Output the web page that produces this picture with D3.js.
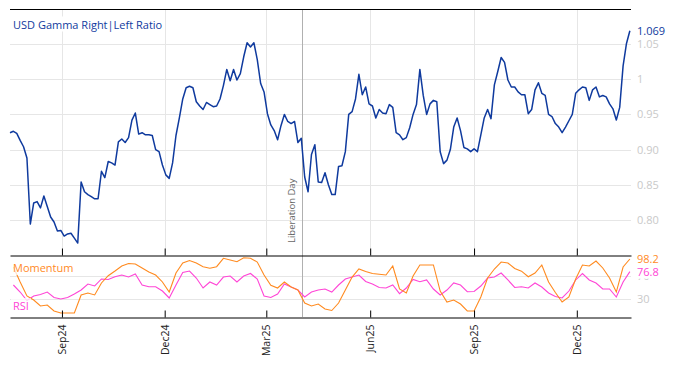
<!DOCTYPE html>
<html>
<head>
<meta charset="utf-8">
<script src="https://cdn.jsdelivr.net/npm/d3@7"></script>
<style>
  body { margin: 0; background: #fff; }
  svg { display: block; font-family: "Open Sans", sans-serif; }
</style>
</head>
<body>
<div id="chart"></div>
<script>
// Gamma ratio, one reading every 3 days from 17 Jul 2024
const ratioStart = '2024-07-17';
const ratioStepDays = 3;
const ratioValues = [
  0.924, 0.926, 0.923, 0.913, 0.904, 0.888, 0.794, 0.824, 0.826, 0.817,
  0.834, 0.819, 0.804, 0.797, 0.784, 0.785, 0.777, 0.780, 0.781, 0.774,
  0.767, 0.854, 0.840, 0.836, 0.833, 0.830, 0.830, 0.869, 0.860, 0.883,
  0.881, 0.878, 0.911, 0.915, 0.910, 0.917, 0.942, 0.952, 0.922, 0.924,
  0.921, 0.921, 0.920, 0.900, 0.897, 0.878, 0.864, 0.859, 0.881, 0.920,
  0.945, 0.972, 0.988, 0.990, 0.988, 0.968, 0.962, 0.957, 0.967, 0.964,
  0.961, 0.962, 0.972, 0.991, 1.014, 0.998, 1.014, 0.999, 1.008, 1.032,
  1.052, 1.046, 1.052, 1.028, 0.994, 0.982, 0.951, 0.935, 0.927, 0.914,
  0.934, 0.950, 0.940, 0.937, 0.940, 0.910, 0.916, 0.861, 0.840, 0.893,
  0.907, 0.854, 0.853, 0.867, 0.850, 0.836, 0.836, 0.876, 0.877, 0.897,
  0.950, 0.954, 0.972, 1.007, 0.978, 0.989, 0.965, 0.962, 0.945, 0.957,
  0.952, 0.951, 0.964, 0.960, 0.924, 0.921, 0.914, 0.917, 0.931, 0.950,
  0.964, 1.014, 0.977, 0.950, 0.965, 0.970, 0.968, 0.897, 0.880, 0.885,
  0.900, 0.932, 0.945, 0.927, 0.903, 0.901, 0.897, 0.901, 0.897, 0.921,
  0.945, 0.957, 0.944, 0.992, 1.011, 1.031, 1.024, 0.999, 0.989, 0.989,
  0.982, 0.978, 0.978, 0.951, 0.957, 0.985, 0.995, 0.980, 0.977, 0.950,
  0.947, 0.937, 0.932, 0.924, 0.932, 0.941, 0.950, 0.980, 0.985, 0.989,
  0.988, 0.970, 0.985, 0.989, 0.975, 0.977, 0.975, 0.965, 0.958, 0.942,
  0.960, 1.019, 1.051, 1.069
];

// Oscillators, one reading every 6 days from 20 Jul 2024
const oscStart = '2024-07-20';
const oscStepDays = 6;
const momentumValues = [
  84.7, 59.3, 35.6, 28.8, 18.6, 20.3, 10.2, 6.8, 6.8, 6.8,
  37.3, 40.6, 37.3, 57.6, 69.9, 77.9, 86.4, 90.6, 89.8, 83.0,
  76.2, 71.1, 59.3, 42.3, 74.5, 91.4, 95.7, 91.4, 85.2, 82.5,
  85.2, 99.4, 96.5, 93.7, 100.4, 99.4, 93.1, 71.1, 53.7, 49.1,
  59.3, 50.8, 45.7, 23.7, 18.6, 22.0, 13.5, 11.0, 23.7, 45.7,
  67.7, 81.3, 77.1, 73.7, 72.3, 71.1, 86.4, 47.4, 40.6, 69.4,
  88.1, 88.1, 88.1, 44.0, 25.4, 28.8, 22.0, 10.2, 10.2, 33.9,
  66.0, 81.3, 93.1, 91.4, 82.1, 77.6, 68.2, 74.5, 88.1, 59.3,
  41.5, 25.4, 33.9, 64.4, 88.1, 86.4, 94.8, 83.0, 66.0, 42.3,
  84.7, 98.2
];
const rsiValues = [
  54.2, 42.3, 27.9, 35.6, 38.1, 42.3, 33.0, 30.5, 33.0, 38.9,
  45.7, 55.9, 52.5, 64.4, 63.5, 68.2, 71.1, 67.7, 72.8, 54.2,
  51.3, 51.3, 44.0, 32.2, 54.2, 75.4, 77.9, 66.0, 49.1, 59.3,
  54.2, 67.7, 69.4, 59.3, 69.4, 73.7, 64.4, 35.6, 33.0, 38.9,
  55.9, 50.8, 45.7, 33.9, 42.3, 45.7, 47.4, 42.3, 54.2, 64.4,
  67.7, 71.1, 60.1, 55.9, 50.0, 49.1, 54.2, 39.5, 49.1, 63.5,
  59.8, 62.7, 47.4, 37.3, 45.7, 57.6, 54.2, 42.8, 43.2, 52.5,
  66.0, 67.7, 74.5, 62.7, 50.0, 51.3, 49.1, 57.6, 50.8, 40.6,
  34.7, 32.2, 44.0, 62.7, 73.7, 62.7, 57.6, 47.4, 47.4, 33.9,
  59.3, 76.8
];

// Axes
const xDomain = ['2024-07-17', '2026-01-18'];
const tickDates = ['2024-09-01', '2024-12-01', '2025-03-01', '2025-06-01', '2025-09-01', '2025-12-01'];
const tickLabels = ['Sep24', 'Dec24', 'Mar25', 'Jun25', 'Sep25', 'Dec25'];
const ratioTicks = [0.80, 0.85, 0.90, 0.95, 1.00, 1.05];
const ratioTickLabels = ['0.80', '0.85', '0.90', '0.95', '1', '1.05'];
const oscTicks = [30, 70];
const oscTickLabels = ['30', '70'];
const eventDate = '2025-04-02';
const eventLabel = 'Liberation Day';

const W = 674, H = 366;
const plotLeft = 10, plotRight = 631, plotTop = 9, plotMid = 255, plotBottom = 317;
const blue = '#0f3a9e', orange = '#ff8a1f', pink = '#ff45d6';
const gridColor = '#e6e6e6', axisText = '#c9c9c9';

const parse = d3.utcParse('%Y-%m-%d');
const t0 = parse(ratioStart), o0 = parse(oscStart);
const ratioData = ratioValues.map((v, i) => ({ date: d3.utcDay.offset(t0, i * ratioStepDays), value: v }));
const momentumData = momentumValues.map((v, i) => ({ date: d3.utcDay.offset(o0, i * oscStepDays), value: v }));
const rsiData = rsiValues.map((v, i) => ({ date: d3.utcDay.offset(o0, i * oscStepDays), value: v }));
const ticks = tickDates.map(parse);

const svg = d3.select('#chart').append('svg')
    .attr('width', W)
    .attr('height', H);

const x = d3.scaleUtc().domain(xDomain.map(parse)).range([plotLeft, plotRight]);
const yRatio = d3.scaleLinear().domain([0.75, 1.10]).range([plotMid, plotTop]);
const yOsc = d3.scaleLinear().domain([0, 105]).range([plotBottom, plotMid]);

// Grid
const grid = svg.append('g').attr('stroke', gridColor).attr('stroke-width', 1);
grid.selectAll('.hr').data(ratioTicks).enter().append('line')
    .attr('x1', plotLeft).attr('x2', plotRight)
    .attr('y1', d => Math.round(yRatio(d)) + 0.5).attr('y2', d => Math.round(yRatio(d)) + 0.5);
grid.selectAll('.ho').data(oscTicks).enter().append('line')
    .attr('x1', plotLeft).attr('x2', plotRight)
    .attr('y1', d => Math.round(yOsc(d)) + 0.5).attr('y2', d => Math.round(yOsc(d)) + 0.5);
grid.selectAll('.v').data(ticks).enter().append('line')
    .attr('x1', d => Math.round(x(d)) + 0.5).attr('x2', d => Math.round(x(d)) + 0.5)
    .attr('y1', plotTop).attr('y2', plotMid);

// Event marker
const ex = Math.round(x(parse(eventDate))) + 0.5;
svg.append('line')
    .attr('x1', ex).attr('x2', ex)
    .attr('y1', plotTop).attr('y2', plotBottom)
    .attr('stroke', '#b0b0b0');
svg.append('text')
    .attr('transform', `translate(${ex - 8},${plotMid - 12}) rotate(-90)`)
    .attr('fill', '#666')
    .style('font-size', '9.5px')
    .text(eventLabel);

// Lines
const ratioLine = d3.line().x(d => x(d.date)).y(d => yRatio(d.value));
const oscLine = d3.line().x(d => x(d.date)).y(d => yOsc(d.value));

svg.append('path').datum(rsiData)
    .attr('d', oscLine).attr('fill', 'none')
    .attr('stroke', pink).attr('stroke-width', 1.1);
svg.append('path').datum(momentumData)
    .attr('d', oscLine).attr('fill', 'none')
    .attr('stroke', orange).attr('stroke-width', 1.1);
svg.append('path').datum(ratioData)
    .attr('d', ratioLine).attr('fill', 'none')
    .attr('stroke', blue).attr('stroke-width', 1.5)
    .attr('stroke-linejoin', 'round');

// Frame lines and axes
svg.append('line')
    .attr('x1', plotLeft).attr('x2', plotRight)
    .attr('y1', plotTop + 0.5).attr('y2', plotTop + 0.5)
    .attr('stroke', '#000');

const mainAxis = svg.append('g')
    .attr('transform', `translate(0,${plotMid + 0.5})`)
    .call(d3.axisBottom(x).tickValues(ticks).tickSizeInner(-7).tickSizeOuter(0).tickFormat(''));

const oscAxis = svg.append('g')
    .attr('transform', `translate(0,${plotBottom + 0.5})`)
    .call(d3.axisBottom(x).tickValues(ticks).tickSizeInner(-7).tickSizeOuter(0)
        .tickFormat((d, i) => tickLabels[i]));

[mainAxis, oscAxis].forEach(a => {
    a.select('.domain').attr('stroke', '#000');
    a.selectAll('.tick line').attr('stroke', '#000');
});
oscAxis.selectAll('.tick text')
    .attr('transform', 'rotate(-90)')
    .attr('x', -7)
    .attr('y', 0)
    .attr('dy', '0.35em')
    .attr('text-anchor', 'end')
    .attr('fill', '#222')
    .style('font-size', '10.5px')
    .style('font-family', '"Open Sans", sans-serif');

svg.append('g')
    .attr('transform', `translate(${plotRight},0)`)
    .call(d3.axisRight(yRatio).tickValues(ratioTicks).tickSize(0).tickPadding(6)
        .tickFormat((d, i) => ratioTickLabels[i]))
    .call(g => g.select('.domain').remove())
    .selectAll('text')
    .attr('fill', axisText)
    .style('font-size', '11px')
    .style('font-family', '"Open Sans", sans-serif');

svg.append('g')
    .attr('transform', `translate(${plotRight},0)`)
    .call(d3.axisRight(yOsc).tickValues(oscTicks).tickSize(0).tickPadding(6)
        .tickFormat((d, i) => oscTickLabels[i]))
    .call(g => g.select('.domain').remove())
    .selectAll('text')
    .attr('fill', axisText)
    .style('font-size', '11px')
    .style('font-family', '"Open Sans", sans-serif');

// Text with a white box behind it
function boxedText(txt, tx, ty, color, opacity) {
    const g = svg.append('g');
    const t = g.append('text')
        .attr('x', tx).attr('y', ty)
        .attr('fill', color)
        .style('font-size', '11px')
        .text(txt);
    const b = t.node().getBBox();
    g.insert('rect', 'text')
        .attr('x', b.x - 2).attr('y', b.y)
        .attr('width', b.width + 4).attr('height', b.height)
        .attr('fill', '#fff').attr('fill-opacity', opacity);
    return t;
}

// Last values
const lastRatio = ratioValues[ratioValues.length - 1];
const lastMom = momentumValues[momentumValues.length - 1];
const lastRsi = rsiValues[rsiValues.length - 1];
boxedText(d3.format('.3f')(lastRatio), plotRight + 6, yRatio(lastRatio) + 4, blue, 1);
boxedText(d3.format('.1f')(lastMom), plotRight + 6, yOsc(lastMom) + 4, orange, 1);
boxedText(d3.format('.1f')(lastRsi), plotRight + 6, yOsc(lastRsi) + 4, pink, 1);

// Titles
boxedText('USD Gamma Right|Left Ratio', 13, 28.5, blue, 1);
boxedText('Momentum', 13, 272, orange, 0.75);
boxedText('RSI', 13, 310, pink, 0.75);
</script>
</body>
</html>
